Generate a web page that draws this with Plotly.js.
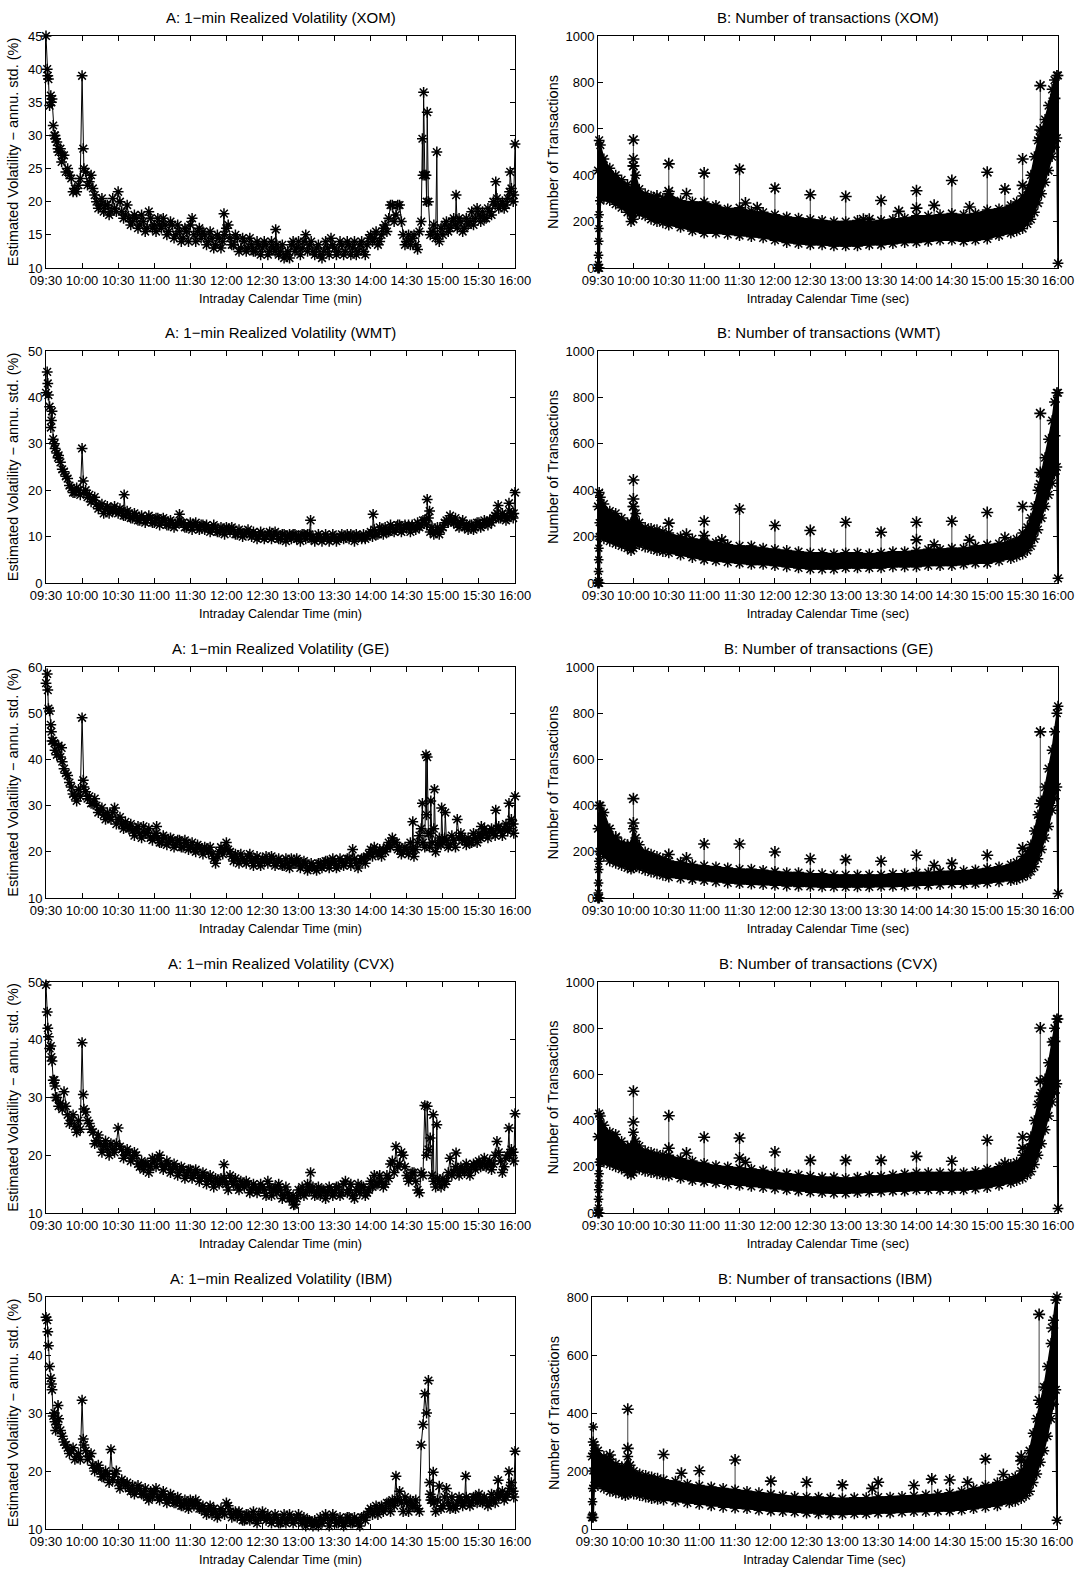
<!DOCTYPE html>
<html><head><meta charset="utf-8">
<script src="https://cdn.plot.ly/plotly-3.0.1.min.js"></script>
<style>html,body{margin:0;padding:0;background:#fff;}#chart{width:1078px;height:1569px;}</style>
</head><body><div id="chart"></div>
<script>
// ---------- shared categories ----------
const tickMinutes = [0,30,60,90,120,150,180,210,240,270,300,330,360,390];
const tickLabels = ["09:30","10:00","10:30","11:00","11:30","12:00","12:30","13:00","13:30","14:00","14:30","15:00","15:30","16:00"];
const stocks = ["XOM","WMT","GE","CVX","IBM"];

// ---------- 1-min realized volatility (readings every 3 minutes + in-between readings + isolated points) ----------
const volMinutes = [0,3,6,9,12,15,18,21,24,27,30,33,36,39,42,45,48,51,54,57,60,63,66,69,72,75,78,81,84,87,90,93,96,99,102,105,108,111,114,117,120,123,126,129,132,135,138,141,144,147,150,153,156,159,162,165,168,171,174,177,180,183,186,189,192,195,198,201,204,207,210,213,216,219,222,225,228,231,234,237,240,243,246,249,252,255,258,261,264,267,270,273,276,279,282,285,288,291,294,297,300,303,306,309,312,315,318,321,324,327,330,333,336,339,342,345,348,351,354,357,360,363,366,369,372,375,378,381,384,387,390];
const volMidMinutes = [1.5,4.5,7.5,10.5,13.5,16.5,19.5,22.5,25.5,28.5,31.5,34.5,37.5,40.5,43.5,46.5,49.5,52.5,55.5,58.5,61.5,64.5,67.5,70.5,73.5,76.5,79.5,82.5,85.5,88.5,91.5,94.5,97.5,100.5,103.5,106.5,109.5,112.5,115.5,118.5,121.5,124.5,127.5,130.5,133.5,136.5,139.5,142.5,145.5,148.5,151.5,154.5,157.5,160.5,163.5,166.5,169.5,172.5,175.5,178.5,181.5,184.5,187.5,190.5,193.5,196.5,199.5,202.5,205.5,208.5,211.5,214.5,217.5,220.5,223.5,226.5,229.5,232.5,235.5,238.5,241.5,244.5,247.5,250.5,253.5,256.5,259.5,262.5,265.5,268.5,271.5,274.5,277.5,280.5,283.5,286.5,289.5,292.5,295.5,298.5,301.5,304.5,307.5,310.5,313.5,316.5,319.5,322.5,325.5,328.5,331.5,334.5,337.5,340.5,343.5,346.5,349.5,352.5,355.5,358.5,361.5,364.5,367.5,370.5,373.5,376.5,379.5,382.5,385.5,388.5];

const volXOM = [45,34.5,31.5,29,28,27,25,23.5,22,22.5,
23,24.5,23,22,20,19.5,18.5,19.5,18.5,19,
21.5,18.5,18,17.5,17,17.5,16.5,17,16,17.5,
16.5,17.5,16,16.5,15.5,16.5,15,15.5,14.5,15.5,
16.5,15,15.5,14.5,15,14,14.5,13.5,14.5,14,
16,14.5,13.5,14.5,13,14,13,13.5,12.5,13.5,
13,13.5,12.5,13,13.5,12.5,11.5,12.5,13.5,12.5,
14,13,15,13.5,12.5,13,12,12.5,13,14.5,
13,12.5,13.5,12.5,13.5,13,12,13.5,12.5,13.5,
15,14.5,13.5,15,16.5,17.5,19.5,18,19.5,15,
14,13.5,15,12.8,17,24,20,15.5,14.5,14,
15,17,16,17.5,16,17,16,16.5,18.5,17.5,
18,18.5,17.5,18.5,20,20.5,19.5,19,20.5,22,
28.7];
const volXOMMid = [39,35,30,27.5,27,24.5,24,21.5,21.5,23.5,
25,22.5,24,21,19,20.5,19.5,18,20.5,18.5,
20,17.5,19.5,16.5,18,16,18,15.5,18.5,16,
15.5,16.5,17.5,15,17,14.5,16.5,14,16,14,
17.5,14,16,15.5,13.5,15.5,13,15,13,15,
16.5,13.5,15,12.5,14.5,12.5,14.5,12.5,14,12,
14,12,14,12.5,12,13.5,12,11.5,14,13,
12,14,12.5,14,12,13.5,11.5,14,12,13.5,
12,14,12,14,12,14,12.5,14,12,14.5,
14,15.5,14,16,15.5,19.5,17,19.5,17,13.5,
15,14.5,13.5,15.5,24,20,15,16.5,15,16,
16.5,15.5,17,16.5,17.5,15.5,17.5,17,16.5,19,
17,17.5,19,18,19.5,19,20,19.5,21.5,20];
const volXOMExtraT = [1,2,4,5,7,8,10,13,30,31,148,191,313,314,316,317,325,341,374,386,389];
const volXOMExtraV = [40,38.5,36,35.5,30,29.5,28,26,39,28,18.2,15.8,29.5,36.5,24,33.5,27.5,21,23,24.5,21];

const volWMT = [41,38,31,28,26,24,22.5,20.5,19.5,20,
21,20,19,18,17,16.5,15,16.5,16,16.5,
15,15.5,14.5,15,14,14.5,13.5,14,13.5,14,
13,14,13,13.5,12.5,13,12.5,12,13,12,
13,12.5,12,12.5,11.5,12,11.5,12,11,11.5,
12,11,11.5,10.5,11,10.5,11.5,10,10.5,10,
10.5,10,11,10,10.5,9.5,10.5,10,9.5,10.5,
10,10.5,9.5,10.5,10,9.5,10,9.5,10,9.5,
10,9.5,10.5,10,9.5,10,10.5,10,10.5,10,
11,11.5,10.5,11.5,12,11,12,11.5,12.5,11.5,
12,11,12,13,12.5,13.5,14,12,11,10.5,
12,13.5,14.5,13,12.5,13,12,11.5,12.5,12,
13,12.5,13,13.5,14,15,14,14.5,14,15,
19.5];
const volWMTMid = [43,35,29,27.5,24.5,23,21,19.5,20.5,19,
19.5,18.5,17.5,18.5,16,17,16,15,15.5,15.5,
16,14.5,15.5,14,15,13.5,14.5,13,14.5,13,
14,12.5,14,12.5,13.5,12,13,13,12,12.5,
11.5,13,11.5,12.5,12.5,11,12.5,11,12,10.5,
11.5,12,10.5,11.5,10,11,10.5,11,9.5,11,
9.5,10.5,9.5,11,9.5,10.5,9,10.5,10.5,9.5,
9,10.5,10.5,9.5,9,10.5,9,10.5,9,10.5,
9,10,9.5,10.5,10.5,9,10,9.5,9.5,10.5,
10,10.5,12,10.5,11,12.5,11,12.5,11,12.5,
12.5,12.5,11.5,12,13.5,12.5,11,10.5,12,11.5,
13,13,13.5,14,12,13.5,12.5,12.5,11.5,13,
12,13.5,12.5,13,14.5,14,15,13.5,15.5,14];
const volWMTExtraT = [1,2,4,5,7,10,30,31,65,111,220,272,317,319,376,385,389];
const volWMTExtraV = [45.5,40.5,33.5,37,30,27,29,22,19,14.8,13.5,14.8,18,15.5,16.7,17.2,15];

const volGE = [56.5,50.5,44,41,40.5,38,36.5,34,32,33.5,
33,33,32,30.5,30,29,28,28.5,27,28,
27,26,26.5,25,24.5,25,24,25.5,24,23,
23.5,23,22,23,22,22.5,21.5,22.5,21,22,
21,20.5,21.5,20.5,21,20,19.5,17.5,20,19.5,
22,20,18,18.5,19.5,18,19,18,18.5,17.5,
18.5,19,18,18.5,17.5,18,17,17.5,18.5,17.5,
18,17,17.5,16.5,17,16,17.5,17,18,17.5,
18,17,18,17.5,18.5,20.5,17.5,18,18.5,19,
20.5,21,19.5,19,20,22,23,22,21,20,
20.5,22,19,22,25,21,24,22,20,23,
22,22.5,21.5,22.5,22,24,22.5,23,22,23,
24,23.5,24,24.5,24,25,24.5,25,24.5,27,
32];
const volGEMid = [55,46,42,43,39.5,37,35,32.5,31,32,
34,31.5,30.5,31.5,28.5,29.5,27,27.5,28.5,26,
27.5,25,25.5,26,23.5,25.5,23,24,25,22.5,
24,22,23.5,21.5,23,21,22.5,21,22.5,20.5,
22,20,21,19.5,20.5,21,18.5,19,21,20.5,
20.5,19,19.5,17.5,18.5,17.5,19.5,17,19,17,
18,17.5,19,17,18.5,17,18.5,16.5,17.5,18.5,
16.5,18,16,17.5,16.5,17.5,16.5,18,16.5,18.5,
16.5,18.5,17,18.5,17,18.5,16.5,18.5,17.5,19.5,
19,20,20.5,20.5,21,21,22,20.5,19.5,21,
19.5,20.5,20.5,23.5,22,28,24,25,21.5,21.5,
23,21,23.5,21,23,22.5,21.5,22,24,22,
23,25,23,25,23.5,25.5,23.5,26,25,26];
const volGEExtraT = [1,2,4,5,7,13,30,31,57,92,305,313,316,317,319,320,323,329,332,342,362,374,385,389];
const volGEExtraV = [58.5,51,47.5,44,43.5,42.5,49,35.5,29.5,25.5,26.5,30.5,41,40.5,21,31,33.5,29.5,28.5,27,25.5,29,30.5,24];

const volCVX = [49.5,38.5,33,30,29,31,27,26,25,26,
25,27.5,25.5,24,22.5,22,21.5,21,22,20.5,
22,21,20,20.5,19.5,20,18,17.5,18.5,18,
19,19.5,18.5,18,18.5,17.5,18,17,17.5,16.5,
17.5,16.5,17,16,16.5,16,15.5,16,15,15.5,
15,16.5,15,14.5,15.5,14.5,15,14,14.5,14,
14.5,13,14.5,14,13.5,14,13,13.5,12.5,11.5,
14,14.5,13.5,14,14.5,13.5,13,14,13.5,14,
13.5,14.5,13.5,15.5,14,13,14,13.5,14.5,13.5,
15.5,16.5,15,15.5,15,16,19,19,18.5,20,
16.5,16,17,14,17,21,21,16.5,14.5,15.5,
16,15.5,19.5,17,17.5,18,17,17.5,18,17.5,
19,18.5,18,19,18.5,19.5,19,18,20,21,
27.2];
const volCVXMid = [42,37,32,28.5,28,28.5,25.5,27,24,24.5,
28,26,24.5,22,23.5,20.5,22.5,20,21,22,
21.5,19.5,21,19,20.5,18.5,19,18.5,17,19.5,
18,20,17.5,19,17,18.5,16.5,18,16,17.5,
16,17.5,15.5,17,15,16.5,14.5,15.5,16,16,
14,15.5,16,14,15,15.5,13.5,15,13.5,15,
14,15.5,13,14.5,15,12.5,14.5,12.5,13,12.5,
13.5,13,15,14,13,14.5,14,12.5,14.5,13,
14.5,13,15,13.5,15,12.5,15,14.5,13,14,
14.5,15,16.5,14.5,16.5,18.5,17,18,20.5,18,
15.5,17,15.5,13.5,16.5,20,23,15.5,16,14.5,
15,17,16.5,18,16.5,17.5,18.5,16.5,18.5,18.5,
18,19.5,18.5,17.5,20,20.5,17,19.5,20,20.5];
const volCVXExtraT = [1,2,4,5,7,8,30,31,60,148,206,220,291,315,317,322,325,341,375,385,389];
const volCVXExtraV = [44.8,40.5,38.9,36.3,33,30,39.5,30.5,24.7,18.4,11.4,17,21.5,28.6,28.5,27,25.3,20.4,22.4,24.7,19];

const volIBM = [46.5,38,29.5,28,27,25,24,23.5,22,23,
32.2,23.5,22.5,21,20.5,20,19,19.5,23.7,19.5,
18,18.5,17.5,17,17.5,16.5,17,16,15.5,16.5,
16.5,15.5,16,15.5,15,15.5,14.5,15,14,14.5,
15,14,14.5,13.5,13,13.5,12.5,13,12.5,13,
14.5,13,12.5,12,12.5,11.5,12.5,12,11.5,12.5,
13,11.5,12,11.5,12,11,12.5,11.5,12,11.5,
12.5,11,10.5,11.5,10.5,11,12,11.5,12,11.5,
12,11,11.5,11,12,11,11.5,10.5,12,12.5,
13.5,13,12.5,14,13.5,14.5,15,19.1,16.5,13,
14.5,15,14,13.5,24.5,33.3,35.6,15,13,17.4,
14,17,13.5,14,14.5,15,14.5,15,14.5,15.5,
16,14.5,15,14.5,15,16,16,15,16,18,
23.4];
const volIBMMid = [44,35,28.5,29,26,24.5,23,24,22.5,22,
24.5,22,23,20,21,19,20,18,18.5,20,
17,18,18,16.5,16,17.5,16,17,15,15.5,
17,15,16.5,14.5,16,14.5,15.5,14,15,13.5,
14.5,15,13.5,14,12.5,14,13.5,12,13.5,12.5,
14,12,13,13,11.5,12.5,11.5,13,11,12,
12,12.5,11,12.5,11,12,11,12.5,11,12,
11.5,12,11.5,11,11.5,10.5,11,12.5,10.5,12.5,
11,12,10.5,12,11,12,11,12,11.5,13,
12.5,14,13.5,13,14.5,13,14,15,14.5,15.5,
13,14,15,13,28,30,16,14.5,15,13.5,
15.5,14.5,15.5,13.5,15.5,14,15.5,14,15.5,14.5,
15,15.5,14,16,14.5,15.5,16.5,15.5,17,16.5];
const volIBMExtraT = [1,2,4,5,7,8,10,31,292,319,320,322,349,376,385,389];
const volIBMExtraV = [46,41.6,36,34,30,27,31.3,25.5,15,18,15,19.8,19.1,18.4,19.9,15.5];

// ---------- number of transactions: band envelope (low / high) ----------
const txMinutes = [0,1,2,5,10,15,20,25,28,30,32,35,40,45,50,55,60,70,80,90,100,110,120,130,140,150,160,170,180,190,200,210,220,230,240,250,260,270,280,290,300,310,320,330,340,350,355,360,364,367,370,373,376,379,382,385,387,389,390];
const txOpenMinutes = [0.15,0.3,0.45,0.6,0.75,0.9,1.05];

const txXOMLow = [0,0,290,300,290,275,260,240,200,210,240,235,225,210,200,195,185,175,160,150,150,145,140,135,130,120,110,105,100,100,95,95,95,100,100,105,110,110,115,120,120,115,120,125,140,150,160,170,190,210,240,280,320,370,420,480,520,560,20];
const txXOMHigh = [420,550,530,470,430,400,380,360,340,440,400,340,320,310,300,300,320,290,285,285,270,255,260,245,240,230,220,215,210,205,200,200,205,200,205,210,215,225,225,230,235,230,235,250,255,270,285,310,340,400,480,550,590,640,700,770,810,830,830];
const txXOMSpikeT = [30,30,30,50,60,60,75,90,120,125,135,150,180,210,225,230,240,255,270,270,285,300,315,330,345,360,360,375,375,375,387];
const txXOMSpikeV = [552,470,440,310,449,330,320,409,426,280,260,344,316,308,210,210,291,244,333,258,270,377,263,413,340,470,356,786,595,560,731];
const txXOMOpen = [0,15,55,115,170,230];

const txWMTLow = [0,0,200,190,180,170,160,150,140,150,170,165,155,148,140,135,130,120,110,100,95,90,85,80,80,75,70,65,60,60,60,65,65,65,65,70,70,70,75,75,75,80,85,85,95,105,115,125,140,160,190,230,280,330,380,430,470,500,20];
const txWMTHigh = [330,390,370,340,310,300,280,260,260,330,300,260,240,235,230,220,215,200,190,185,175,165,160,160,150,145,140,135,130,130,125,130,130,125,130,135,135,140,145,145,150,150,160,165,170,180,190,215,240,280,330,400,470,540,620,700,780,820,820];
const txWMTSpikeT = [30,30,30,60,75,90,90,105,120,150,180,210,240,270,270,285,300,315,330,345,360,375,375,375,387];
const txWMTSpikeV = [444,362,330,258,210,266,205,185,319,248,226,262,219,262,186,165,266,185,304,195,330,731,476,425,635];
const txWMTOpen = [0,10,50,100,150,200,260];

const txGELow = [0,0,200,180,160,150,140,130,125,130,140,130,120,112,105,98,90,85,80,75,70,65,62,60,58,55,52,50,50,48,48,48,48,48,50,50,52,55,55,58,60,60,62,65,70,75,80,90,100,115,135,170,210,260,310,380,430,480,20];
const txGEHigh = [300,400,400,370,300,260,240,230,230,300,260,230,200,190,180,170,160,155,145,140,135,130,125,125,120,115,110,110,105,105,100,100,100,100,100,105,105,110,110,115,115,118,122,128,135,145,155,180,200,230,290,360,420,480,560,640,720,800,830];
const txGESpikeT = [15,25,30,30,60,75,90,120,150,180,210,240,270,285,300,330,360,375,375,375];
const txGESpikeV = [264,228,430,325,188,173,234,234,199,170,166,159,185,141,150,185,216,719,408,350];
const txGEOpen = [0,22,65,123,159,202];

const txCVXLow = [0,0,220,220,210,200,190,175,165,175,195,190,180,175,170,165,160,150,140,135,130,125,120,115,110,105,100,95,90,88,85,85,88,90,92,95,95,100,100,100,100,100,105,110,120,130,140,150,165,180,210,250,300,360,420,480,520,560,20];
const txCVXHigh = [330,430,420,380,350,340,310,290,290,350,310,290,270,262,255,252,250,235,225,215,205,200,195,190,185,175,170,165,160,155,155,150,155,160,160,165,170,175,175,175,175,175,180,190,200,210,220,250,280,330,400,470,520,580,650,740,800,840,840];
const txCVXSpikeT = [30,30,60,60,75,90,120,120,125,150,180,210,240,270,300,330,345,360,360,375,375,375,387];
const txCVXSpikeV = [527,394,421,280,260,328,325,238,220,264,228,228,228,245,224,315,215,329,281,801,570,505,743];
const txCVXOpen = [0,22,60,101,130,170,220];

const txIBMLow = [40,40,150,150,140,130,125,120,115,120,125,120,115,110,105,102,100,95,90,85,80,75,72,70,65,62,60,58,55,52,50,50,52,52,55,55,58,60,60,62,62,65,70,75,80,90,95,105,115,130,160,190,230,270,320,380,430,480,30];
const txIBMHigh = [250,300,290,270,250,240,225,215,215,250,220,200,190,185,180,175,170,165,155,150,145,140,135,130,125,120,115,112,110,110,108,105,108,108,110,110,112,115,118,120,125,130,140,150,160,170,180,200,230,270,330,380,430,490,560,640,720,790,800];
const txIBMSpikeT = [15,30,30,60,75,90,120,150,180,210,235,240,270,285,300,315,330,345,360,360,375,375,381,386];
const txIBMSpikeV = [255,413,278,257,192,201,238,165,161,152,140,161,150,172,169,161,241,188,251,235,740,444,487,693];
const txIBMOpen = [40,48,94,140,200,260,352];

// ---------- panel configuration (styles / placement) ----------
const FONT = "Liberation Sans, Arial, Helvetica, sans-serif";
const W = 1078, H = 1569;
const rowPx = [[36,268],[351,583],[667,898],[982,1213],[1297,1529]];
const leftPx = [46,515];
const rightPx = [[598,1058],[598,1058],[598,1058],[598,1058],[592,1057]];

const volSets = [
  {v:volXOM, mid:volXOMMid, et:volXOMExtraT, ev:volXOMExtraV, range:[10,45], dtick:5},
  {v:volWMT, mid:volWMTMid, et:volWMTExtraT, ev:volWMTExtraV, range:[0,50], dtick:10},
  {v:volGE,  mid:volGEMid,  et:volGEExtraT,  ev:volGEExtraV,  range:[10,60], dtick:10},
  {v:volCVX, mid:volCVXMid, et:volCVXExtraT, ev:volCVXExtraV, range:[10,50], dtick:10},
  {v:volIBM, mid:volIBMMid, et:volIBMExtraT, ev:volIBMExtraV, range:[10,50], dtick:10}
];
const txSets = [
  {lo:txXOMLow, hi:txXOMHigh, st:txXOMSpikeT, sv:txXOMSpikeV, op:txXOMOpen, range:[0,1000]},
  {lo:txWMTLow, hi:txWMTHigh, st:txWMTSpikeT, sv:txWMTSpikeV, op:txWMTOpen, range:[0,1000]},
  {lo:txGELow,  hi:txGEHigh,  st:txGESpikeT,  sv:txGESpikeV,  op:txGEOpen,  range:[0,1000]},
  {lo:txCVXLow, hi:txCVXHigh, st:txCVXSpikeT, sv:txCVXSpikeV, op:txCVXOpen, range:[0,1000]},
  {lo:txIBMLow, hi:txIBMHigh, st:txIBMSpikeT, sv:txIBMSpikeV, op:txIBMOpen, range:[0,800]}
];

// merge reading lists (later lists take precedence at equal minutes)
function mergeSeries(pairs) {
  const m = new Map();
  pairs.forEach(([t, v]) => t.forEach((x,i)=>m.set(x, v[i])));
  const xs = Array.from(m.keys()).sort((a,b)=>a-b);
  return {x: xs, y: xs.map(x=>m.get(x))};
}
function nearestHigh(times, high, t) {
  let best = 0;
  times.forEach((x,i)=>{ if (Math.abs(x-t) < Math.abs(times[best]-t)) best = i; });
  return high[best];
}
const star = (size, w)=>({symbol:'asterisk-open', size:size, color:'#000', line:{color:'#000', width:w}});

const data = [];
const layout = {
  width: W, height: H, margin:{l:0,r:0,t:0,b:0},
  paper_bgcolor:'#fff', plot_bgcolor:'#fff', showlegend:false,
  font:{family:FONT, color:'#000'}, annotations: []
};

function axisCommon() {
  return {ticks:'inside', ticklen:5, tickwidth:1, tickcolor:'#000', showline:true, linecolor:'#000',
          linewidth:1, mirror:'allticks', showgrid:false, zeroline:false, automargin:false, fixedrange:true,
          tickfont:{family:FONT, size:13, color:'#000'}};
}

for (let r = 0; r < 5; r++) {
  for (let c = 0; c < 2; c++) {
    const k = r*2 + c + 1;
    const xa = k === 1 ? 'x' : 'x'+k, ya = k === 1 ? 'y' : 'y'+k;
    const xk = k === 1 ? 'xaxis' : 'xaxis'+k, yk = k === 1 ? 'yaxis' : 'yaxis'+k;
    const px = c === 0 ? leftPx : rightPx[r];
    const py = rowPx[r];
    const xdom = [px[0]/W, px[1]/W];
    const ydom = [1 - py[1]/H, 1 - py[0]/H];

    layout[xk] = Object.assign(axisCommon(), {
      domain: xdom, anchor: ya, range:[0,390], tickmode:'array', tickvals: tickMinutes, ticktext: tickLabels,
      title:{text: c === 0 ? 'Intraday Calendar Time (min)' : 'Intraday Calendar Time (sec)',
             font:{family:FONT, size:12.6, color:'#000'}, standoff:7}
    });

    if (c === 0) {
      const s = volSets[r];
      layout[yk] = Object.assign(axisCommon(), {
        domain: ydom, anchor: xa, range: s.range, tickmode:'linear', tick0: s.range[0], dtick: s.dtick,
        title:{text:'Estimated Volatility \u2212 annu. std. (%)', font:{family:FONT, size:14.5, color:'#000'}, standoff:5}
      });
      const m = mergeSeries([[volMinutes, s.v], [volMidMinutes, s.mid], [s.et, s.ev]]);
      data.push({type:'scatter', mode:'lines+markers', x:m.x, y:m.y, xaxis:xa, yaxis:ya,
                 line:{color:'#000', width:1}, marker: star(9, 1.5), cliponaxis:false, hoverinfo:'skip'});
      layout.annotations.push({text:'A: 1\u2212min Realized Volatility (' + stocks[r] + ')', xref:'paper', yref:'paper',
        x:(xdom[0]+xdom[1])/2, y:ydom[1], xanchor:'center', yanchor:'bottom', yshift:8, showarrow:false,
        font:{family:FONT, size:15, color:'#000'}});
    } else {
      const s = txSets[r];
      layout[yk] = Object.assign(axisCommon(), {
        domain: ydom, anchor: xa, range: s.range, tickmode:'linear', tick0: 0, dtick: 200,
        title:{text:'Number of Transactions', font:{family:FONT, size:14.5, color:'#000'}, standoff:3}
      });
      const sx = [], sy = [];
      s.st.forEach((t,i)=>{ sx.push(t,t,null); sy.push(nearestHigh(txMinutes, s.hi, t), s.sv[i], null); });
      data.push({type:'scatter', mode:'lines', x:sx, y:sy, xaxis:xa, yaxis:ya,
                 line:{color:'#444', width:1}, hoverinfo:'skip'});
      data.push({type:'scatter', mode:'lines+markers', x:txMinutes, y:s.lo, xaxis:xa, yaxis:ya,
                 line:{color:'#000', width:1.5}, marker: star(9, 1.5), cliponaxis:false, hoverinfo:'skip'});
      data.push({type:'scatter', mode:'lines+markers', x:txMinutes, y:s.hi, xaxis:xa, yaxis:ya, fill:'tonexty',
                 fillcolor:'#000', line:{color:'#000', width:1.5}, marker: star(9, 1.5), cliponaxis:false, hoverinfo:'skip'});
      data.push({type:'scatter', mode:'lines+markers', x:txOpenMinutes.slice(0, s.op.length), y:s.op, xaxis:xa, yaxis:ya,
                 line:{color:'#000', width:1}, marker: star(8, 1.5), cliponaxis:false, hoverinfo:'skip'});
      data.push({type:'scatter', mode:'markers', x:s.st, y:s.sv, xaxis:xa, yaxis:ya,
                 marker: star(10, 1.6), cliponaxis:false, hoverinfo:'skip'});
      layout.annotations.push({text:'B: Number of transactions (' + stocks[r] + ')', xref:'paper', yref:'paper',
        x:(xdom[0]+xdom[1])/2, y:ydom[1], xanchor:'center', yanchor:'bottom', yshift:8, showarrow:false,
        font:{family:FONT, size:15, color:'#000'}});
    }
  }
}

Plotly.newPlot('chart', data, layout, {staticPlot:true, displayModeBar:false});
</script>
</body></html>
